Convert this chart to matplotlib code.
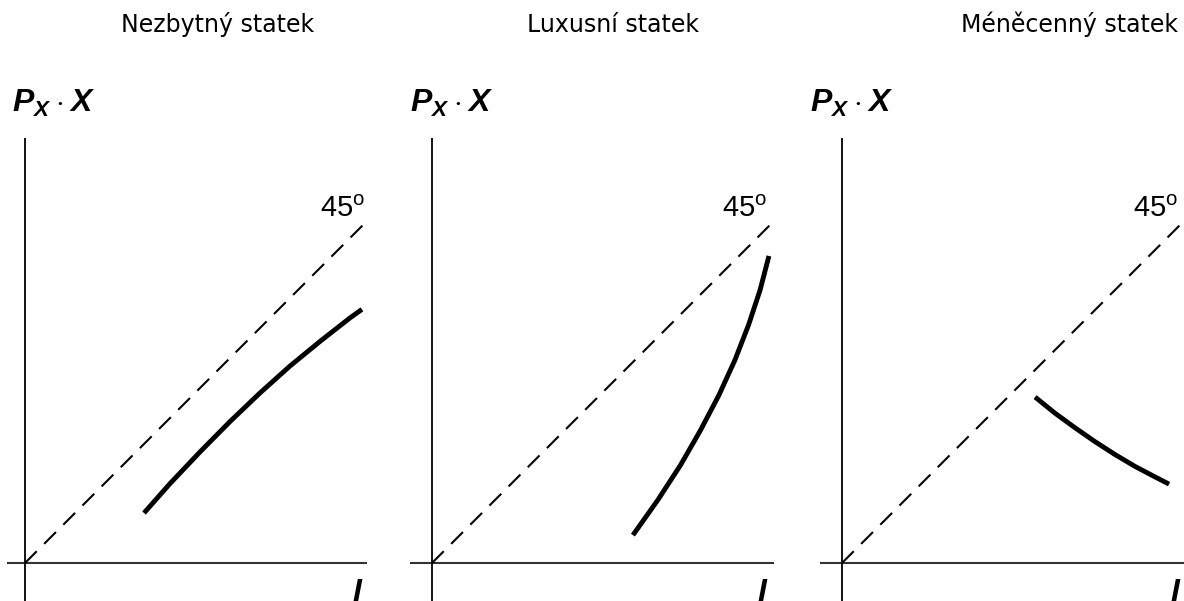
import matplotlib
matplotlib.use("Agg")
import matplotlib.pyplot as plt

plt.rcParams["mathtext.fontset"] = "custom"
plt.rcParams["mathtext.rm"] = "Liberation Sans"
plt.rcParams["mathtext.bfit"] = "Liberation Sans:italic:bold"

# titles of the three panels
titles = ["Nezbytný statek", "Luxusní statek", "Méněcenný statek"]

# Engel curves (income I, spending P_X * X), origin at 0, 45° line is y = x
curve_x = [
    [35.0, 42.6, 51.5, 60.3, 69.1, 77.9, 86.8, 95.6, 99.1],
    [59.1, 66.4, 73.1, 79.0, 84.4, 89.1, 93.1, 96.5, 99.1],
    [56.8, 62.6, 68.5, 74.4, 80.3, 86.2, 92.1, 96.2],
]
curve_y = [
    [14.7, 23.3, 32.7, 41.6, 50.0, 57.9, 65.2, 72.1, 74.6],
    [8.2, 18.5, 28.8, 39.1, 49.4, 59.7, 70.0, 80.3, 90.3],
    [48.8, 44.1, 39.8, 35.7, 31.9, 28.4, 25.3, 23.2],
]
diag = [0, 100.6]

# layout in pixels
W, H = 1184, 601
SCALE = 3.4  # px per data unit
origin_px = [25, 432, 842]
origin_py = 563
xmin = [-5.3, -6.5, -6.5]
xmax = [100.6, 100.6, 100.6]
title_x = [218, 613, 1178]
title_ha = ["center", "center", "right"]
label_px = [12, 410, 810]
i_px = [352, 757, 1170]
deg_px = [320, 722, 1133]

fig = plt.figure(figsize=(W / 100, H / 100), dpi=100)
ymin = (origin_py - H) / SCALE
ymax = (origin_py - 138) / SCALE

for k in range(3):
    left = origin_px[k] + xmin[k] * SCALE
    width = (xmax[k] - xmin[k]) * SCALE
    ax = fig.add_axes([left / W, 0, width / W, (H - 138) / H])
    ax.set_xlim(xmin[k], xmax[k])
    ax.set_ylim(ymin, ymax)
    ax.axis("off")
    ax.axhline(0, color="#333333", lw=1.5)
    ax.axvline(0, color="#111111", lw=1.4)
    ax.plot(diag, diag, color="black", lw=1.5, dashes=(8, 5))
    ax.plot(curve_x[k], curve_y[k], color="black", lw=3.5,
            solid_capstyle="butt", solid_joinstyle="round")

    fig.text(title_x[k] / W, 1 - 32 / H, titles[k], ha=title_ha[k],
             va="baseline", fontsize=17, family="DejaVu Sans")
    fig.text(label_px[k] / W, 1 - 112 / H,
             r"$\mathbfit{P}_{\mathbfit{X}}\cdot\mathbfit{X}$",
             ha="left", va="baseline", fontsize=23)
    fig.text(i_px[k] / W, 0, "I", ha="left", va="baseline",
             fontsize=23, family="Liberation Sans", weight="bold",
             style="italic")
    fig.text(deg_px[k] / W, 1 - 217 / H, r"45$^{\mathrm{o}}$",
             ha="left", va="baseline", fontsize=21, family="Liberation Sans")

fig.savefig("out.png", dpi=100)
